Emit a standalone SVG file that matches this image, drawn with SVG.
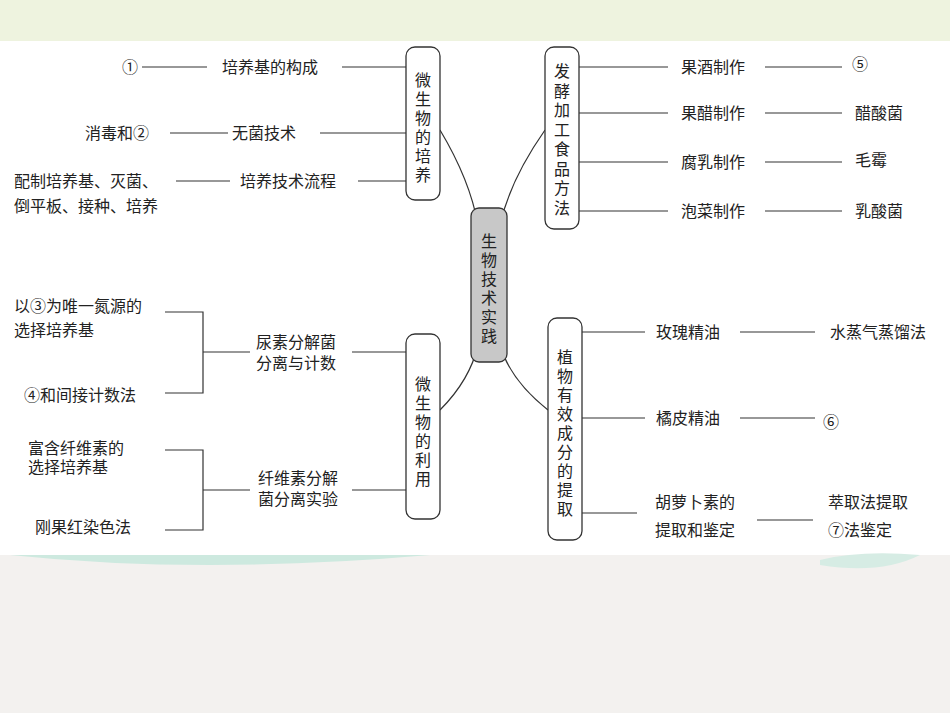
<svg xmlns="http://www.w3.org/2000/svg" width="950" height="713" viewBox="0 0 950 713">
<style>
text{font-family:"Noto Sans CJK SC","Liberation Sans",sans-serif;font-size:16px;fill:#222}
.v{text-anchor:middle}
.box{fill:#fff;stroke:#333;stroke-width:1.3}
.c line,.c path,.c polyline{stroke:#333;stroke-width:1.2;fill:none}
</style>
<rect width="950" height="713" fill="#f3f1ef"/>
<rect width="950" height="41" fill="#eef3df"/>
<rect y="41" width="950" height="514" fill="#fff"/>
<path d="M10 555 Q200 575 430 555 Z" fill="#cde9df"/>
<path d="M820 560 Q860 550 920 555 Q880 575 820 565 Z" fill="#d6ece4"/>
<g class="c">
<path d="M440 130 Q470 180 478 225"/>
<path d="M545 130 Q510 180 500 225"/>
<path d="M440 410 Q470 380 478 345"/>
<path d="M548 410 Q510 380 500 345"/>
<line x1="142" y1="67" x2="207" y2="67"/><line x1="342" y1="67" x2="406" y2="67"/>
<line x1="170" y1="133" x2="228" y2="133"/><line x1="320" y1="133" x2="406" y2="133"/>
<line x1="176" y1="181" x2="230" y2="181"/><line x1="358" y1="181" x2="406" y2="181"/>
<line x1="579" y1="67" x2="668" y2="67"/><line x1="765" y1="67" x2="842" y2="67"/>
<line x1="579" y1="113" x2="668" y2="113"/><line x1="765" y1="113" x2="842" y2="113"/>
<line x1="579" y1="162" x2="668" y2="162"/><line x1="765" y1="162" x2="842" y2="162"/>
<line x1="579" y1="211" x2="668" y2="211"/><line x1="765" y1="211" x2="842" y2="211"/>
<line x1="582" y1="332" x2="645" y2="332"/><line x1="740" y1="332" x2="815" y2="332"/>
<line x1="582" y1="418" x2="645" y2="418"/><line x1="740" y1="418" x2="815" y2="418"/>
<line x1="582" y1="513" x2="637" y2="513"/><line x1="757" y1="520" x2="813" y2="520"/>
<polyline points="165,312 203,312 203,393 165,393"/><line x1="203" y1="352" x2="250" y2="352"/><line x1="352" y1="352" x2="406" y2="352"/>
<polyline points="165,450 203,450 203,530 165,530"/><line x1="203" y1="490" x2="250" y2="490"/><line x1="352" y1="490" x2="406" y2="490"/>
</g>
<g id="n-left1"><rect class="box" x="406" y="47" width="34" height="153" rx="9"/>
<text class="v"><tspan x="423" y="86">微</tspan><tspan x="423" y="105">生</tspan><tspan x="423" y="124">物</tspan><tspan x="423" y="143">的</tspan><tspan x="423" y="162">培</tspan><tspan x="423" y="181">养</tspan></text></g>
<g id="n-right1"><rect class="box" x="545" y="47" width="34" height="182" rx="9"/>
<text class="v"><tspan x="562" y="77">发</tspan><tspan x="562" y="96.5">酵</tspan><tspan x="562" y="116">加</tspan><tspan x="562" y="135.5">工</tspan><tspan x="562" y="155">食</tspan><tspan x="562" y="174.5">品</tspan><tspan x="562" y="194">方</tspan><tspan x="562" y="213.5">法</tspan></text></g>
<g id="n-center"><rect x="471" y="208" width="36" height="154" rx="8" fill="#c8c8c8" stroke="#333" stroke-width="1.3"/>
<text class="v"><tspan x="489" y="247">生</tspan><tspan x="489" y="266">物</tspan><tspan x="489" y="285">技</tspan><tspan x="489" y="304">术</tspan><tspan x="489" y="323">实</tspan><tspan x="489" y="342">践</tspan></text></g>
<g id="n-left2"><rect class="box" x="406" y="334" width="34" height="185" rx="9"/>
<text class="v"><tspan x="423" y="390">微</tspan><tspan x="423" y="409">生</tspan><tspan x="423" y="428">物</tspan><tspan x="423" y="447">的</tspan><tspan x="423" y="466">利</tspan><tspan x="423" y="485">用</tspan></text></g>
<g id="n-right2"><rect class="box" x="548" y="318" width="34" height="222" rx="9"/>
<text class="v"><tspan x="565" y="363">植</tspan><tspan x="565" y="382">物</tspan><tspan x="565" y="401">有</tspan><tspan x="565" y="420">效</tspan><tspan x="565" y="439">成</tspan><tspan x="565" y="458">分</tspan><tspan x="565" y="477">的</tspan><tspan x="565" y="496">提</tspan><tspan x="565" y="515">取</tspan></text></g>
<g id="labels">
<text x="122" y="73">①</text><text x="222" y="73">培养基的构成</text>
<text x="85" y="139">消毒和②</text><text x="232" y="139">无菌技术</text>
<text x="14" y="187">配制培养基、灭菌、</text><text x="14" y="212">倒平板、接种、培养</text><text x="240" y="187">培养技术流程</text>
<text x="681" y="73">果酒制作</text><text x="852" y="70">⑤</text>
<text x="681" y="119">果醋制作</text><text x="855" y="119">醋酸菌</text>
<text x="681" y="168">腐乳制作</text><text x="855" y="166">毛霉</text>
<text x="681" y="217">泡菜制作</text><text x="855" y="217">乳酸菌</text>
<text x="656" y="338">玫瑰精油</text><text x="830" y="338">水蒸气蒸馏法</text>
<text x="656" y="424">橘皮精油</text><text x="823" y="428">⑥</text>
<text x="655" y="508">胡萝卜素的</text><text x="655" y="536">提取和鉴定</text>
<text x="828" y="508">萃取法提取</text><text x="828" y="536">⑦法鉴定</text>
<text x="14" y="312">以③为唯一氮源的</text><text x="14" y="336">选择培养基</text>
<text x="256" y="348">尿素分解菌</text><text x="256" y="369">分离与计数</text>
<text x="24" y="401">④和间接计数法</text>
<text x="28" y="454">富含纤维素的</text><text x="28" y="473">选择培养基</text>
<text x="258" y="484">纤维素分解</text><text x="258" y="505">菌分离实验</text>
<text x="35" y="533">刚果红染色法</text>
</g>
</svg>
